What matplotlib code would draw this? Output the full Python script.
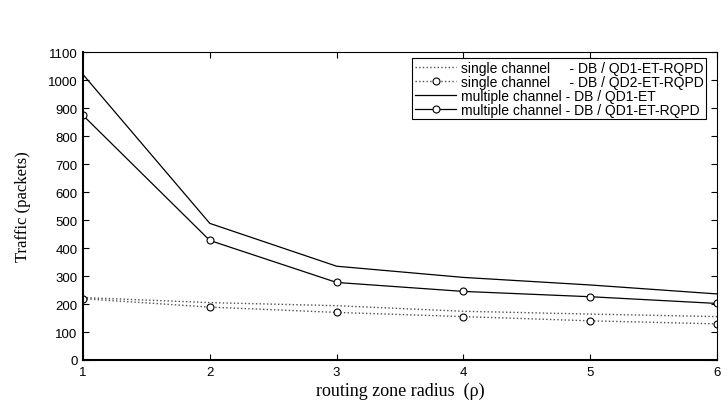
import matplotlib.pyplot as plt

# routing zone radius
radius = [1, 2, 3, 4, 5, 6]

# traffic (packets)
single_qd1 = [223, 205, 194, 174, 164, 155]
single_qd2 = [219, 189, 170, 155, 140, 129]
multi_qd1 = [1020, 488, 335, 295, 268, 236]
multi_qd1_rqpd = [874, 427, 277, 245, 226, 202]

labels = ["single channel     - DB / QD1-ET-RQPD",
          "single channel     - DB / QD2-ET-RQPD",
          "multiple channel - DB / QD1-ET",
          "multiple channel - DB / QD1-ET-RQPD"]

yticks = list(range(0, 1101, 100))

fig = plt.figure(figsize=(7.28, 4.02), dpi=100)
ax = fig.add_axes([0.114, 0.102, 0.871, 0.766])

mk = dict(marker='o', markersize=5, markerfacecolor='white', markeredgecolor='black',
          markeredgewidth=0.8)
ax.plot(radius, single_qd1, linestyle=':', color='0.3', linewidth=1.0, label=labels[0])
ax.plot(radius, single_qd2, linestyle=':', color='0.3', linewidth=1.0, label=labels[1], **mk)
ax.plot(radius, multi_qd1, linestyle='-', color='black', linewidth=0.9, label=labels[2])
ax.plot(radius, multi_qd1_rqpd, linestyle='-', color='black', linewidth=0.9, label=labels[3], **mk)

ax.set_xlim(1, 6)
ax.set_ylim(0, 1100)
ax.set_xticks(radius)
ax.set_yticks(yticks)
ax.tick_params(direction='in', top=True, right=True, length=4, width=0.8,
               labelsize=9.5, pad=4)
for lab in ax.get_xticklabels() + ax.get_yticklabels():
    lab.set_family('Liberation Sans')
for side in ['left', 'bottom']:
    ax.spines[side].set_linewidth(1.5)
for side in ['top', 'right']:
    ax.spines[side].set_linewidth(0.8)

ax.set_xlabel("routing zone radius  (\u03c1)", family='Liberation Serif', fontsize=13, labelpad=3)
ax.set_ylabel("Traffic (packets)", family='Liberation Serif', fontsize=12, labelpad=12)

leg = ax.legend(loc='upper right', bbox_to_anchor=(0.987, 0.99), fancybox=False,
                edgecolor='black', framealpha=1, handlelength=3.0, handletextpad=0.3,
                borderpad=0.2, labelspacing=0.0, borderaxespad=0.2,
                prop={'family': 'Liberation Sans', 'size': 10})
leg.get_frame().set_linewidth(0.8)

fig.savefig("out.png", dpi=100)
